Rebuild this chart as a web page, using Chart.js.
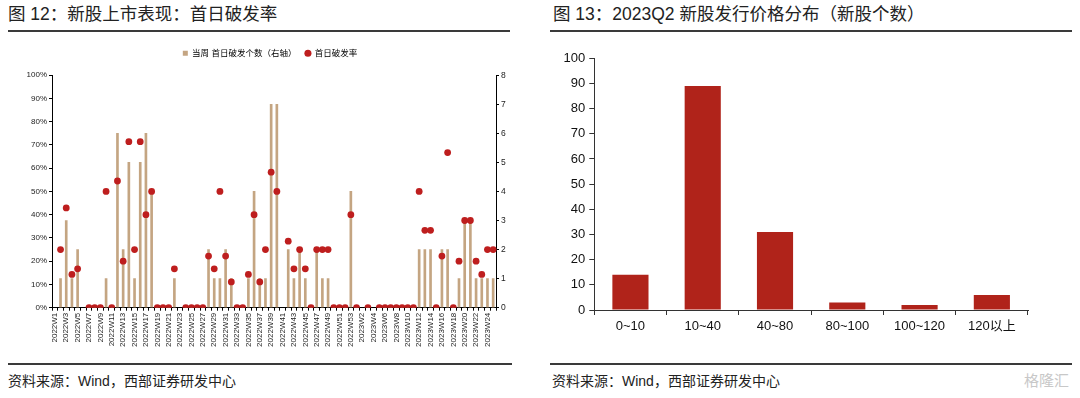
<!DOCTYPE html>
<html>
<head>
<meta charset="utf-8">
<script src="https://cdn.jsdelivr.net/npm/chart.js@4.4.0/dist/chart.umd.min.js"></script>
<style>
body{margin:0;background:#fff;width:1080px;height:398px;position:relative;overflow:hidden;font-family:"Liberation Sans","Noto Sans CJK SC",sans-serif;}
.title{position:absolute;top:4px;line-height:20px;font-size:17.5px;color:#222;font-family:"Liberation Sans","Noto Sans CJK SC",sans-serif;}
.rule{position:absolute;height:2px;background:#3a3a3a;}
.src{position:absolute;top:372px;line-height:18px;font-size:14px;color:#222;}
.box{position:absolute;}
.wm{position:absolute;left:1024px;top:372px;font-size:15px;color:#c8c8c8;line-height:18px;}
</style>
</head>
<body>
<div class="title" style="left:8px">图 12：新股上市表现：首日破发率</div>
<div class="rule" style="left:8px;width:502px;top:30px"></div>
<div class="title" style="left:553px">图 13：2023Q2 新股发行价格分布（新股个数）</div>
<div class="rule" style="left:550px;width:522px;top:30px"></div>

<div class="box" style="left:0;top:40px;width:540px;height:325px"><canvas id="ipoChart"></canvas></div>
<div class="box" style="left:540px;top:40px;width:540px;height:320px"><canvas id="priceChart"></canvas></div>

<div class="rule" style="left:8px;width:504px;top:363px;height:1.5px"></div>
<div class="rule" style="left:550px;width:522px;top:363px;height:1.5px"></div>
<div class="src" style="left:8px">资料来源：Wind，西部证券研发中心</div>
<div class="src" style="left:552px">资料来源：Wind，西部证券研发中心</div>
<div class="wm">格隆汇</div>

<script>
// 图12 周度数据
const weeks = [
  "2022W1","2022W2","2022W3","2022W4","2022W5","2022W6","2022W7","2022W8","2022W9","2022W10",
  "2022W11","2022W12","2022W13","2022W14","2022W15","2022W16","2022W17","2022W18","2022W19","2022W20",
  "2022W21","2022W22","2022W23","2022W24","2022W25","2022W26","2022W27","2022W28","2022W29","2022W30",
  "2022W31","2022W32","2022W33","2022W34","2022W35","2022W36","2022W37","2022W38","2022W39","2022W40",
  "2022W41","2022W42","2022W43","2022W44","2022W45","2022W46","2022W47","2022W48","2022W49","2022W50",
  "2022W51","2022W52","2022W53",
  "2023W1","2023W2","2023W3","2023W4","2023W5","2023W6","2023W7","2023W8","2023W9","2023W10",
  "2023W11","2023W12","2023W13","2023W14","2023W15","2023W16","2023W17","2023W18","2023W19","2023W20",
  "2023W21","2023W22","2023W23","2023W24","2023W25"
];

// 当周首日破发个数（右轴）
const brokenCount = [
  null,1,3,1,2,null,0,0,0,1,
  0,6,2,5,1,5,6,4,0,0,
  0,1,null,0,0,0,0,2,1,1,
  2,1,0,0,1,4,1,1,7,7,
  null,2,1,2,1,0,2,1,1,0,
  0,0,4,
  0,null,0,null,0,0,0,0,0,0,
  0,2,2,2,0,2,2,0,1,3,
  3,1,1,1,1
];

// 首日破发率（%）
const breakRate = [
  null,25,42.9,14.3,16.7,null,0,0,0,50,
  0,54.5,20,71.4,25,71.4,40,50,0,0,
  0,16.7,null,0,0,0,0,22.2,16.7,50,
  22.2,11.1,0,0,14.3,40,11.1,25,58.3,50,
  null,28.6,16.7,25,16.7,0,25,25,25,0,
  0,0,40,
  0,null,0,null,0,0,0,0,0,0,
  0,50,33.3,33.3,0,22.2,66.7,0,20,37.5,
  37.5,20,14.3,25,25
];

// 图13 价格区间
const priceBands = ["0~10","10~40","40~80","80~100","100~120","120以上"];
const bandCounts = [14, 89, 31, 3, 2, 6];

const axisFont = '"Liberation Sans","Noto Sans CJK SC",sans-serif';

// 给图例下方留出空间
const legendGap = {
  id: 'legendGap',
  beforeInit(chart) {
    const fit = chart.legend.fit;
    chart.legend.fit = function () {
      fit.bind(chart.legend)();
      this.height += 7.7;
    };
  }
};

new Chart(document.getElementById('ipoChart'), {
  type: 'bar',
  data: {
    labels: weeks,
    datasets: [{
      label: '当周 首日破发个数（右轴）',
      data: brokenCount,
      yAxisID: 'yRight',
      backgroundColor: '#C4A582',
      barThickness: 2,
      order: 2
    }, {
      label: '首日破发率',
      type: 'line',
      data: breakRate,
      yAxisID: 'yLeft',
      showLine: false,
      pointRadius: 3.4,
      pointBackgroundColor: '#BE1E1E',
      pointBorderWidth: 0,
      backgroundColor: '#BE1E1E',
      borderColor: '#BE1E1E',
      order: 1
    }]
  },
  options: {
    responsive: true,
    maintainAspectRatio: false,
    animation: false,
    layout: { padding: { top: 0, left: 0, right: 0, bottom: 0 } },
    plugins: {
      legend: {
        display: true,
        position: 'top',
        labels: {
          font: { size: 8.5, family: axisFont },
          color: '#333',
          usePointStyle: true,
          boxWidth: 5,
          boxHeight: 5,
          padding: 9,
          generateLabels(chart) {
            return chart.data.datasets.map((ds, i) => ({
              text: ds.label,
              fillStyle: ds.backgroundColor,
              strokeStyle: ds.backgroundColor,
              lineWidth: 0,
              pointStyle: i === 0 ? 'rect' : 'circle',
              datasetIndex: i,
              hidden: false
            }));
          }
        }
      },
      tooltip: { enabled: false }
    },
    scales: {
      x: {
        afterFit(scale) { scale.height = 57.3; },
        grid: { display: true, drawOnChartArea: false, drawTicks: true, tickLength: 3, color: '#000', offset: true },
        border: { display: true, color: '#000', width: 1 },
        ticks: {
          autoSkip: false,
          maxRotation: 90,
          minRotation: 90,
          padding: 2,
          color: '#222',
          font: { size: 8, family: axisFont },
          callback(v, i) { return i % 2 === 0 ? weeks[i] : ''; }
        }
      },
      yLeft: {
        position: 'left',
        min: 0, max: 100,
        afterFit(scale) { scale.width = 52; },
        grid: { display: true, drawOnChartArea: false, drawTicks: true, tickLength: 3, color: '#000' },
        border: { display: true, color: '#000', width: 1 },
        ticks: {
          stepSize: 10,
          padding: 2,
          color: '#222',
          font: { size: 8, family: axisFont },
          callback(v) { return v + '%'; }
        }
      },
      yRight: {
        position: 'right',
        min: 0, max: 8,
        afterFit(scale) { scale.width = 44; },
        grid: { display: true, drawOnChartArea: false, drawTicks: true, tickLength: 3, color: '#000' },
        border: { display: true, color: '#000', width: 1 },
        ticks: {
          stepSize: 1,
          padding: 2,
          color: '#222',
          font: { size: 8.5, family: axisFont }
        }
      }
    }
  },
  plugins: [legendGap]
});

new Chart(document.getElementById('priceChart'), {
  type: 'bar',
  data: {
    labels: priceBands,
    datasets: [{
      label: '新股个数',
      data: bandCounts,
      backgroundColor: '#B0231A',
      categoryPercentage: 1,
      barPercentage: 0.5
    }]
  },
  options: {
    responsive: true,
    maintainAspectRatio: false,
    animation: false,
    layout: { padding: { top: 18.3, right: 52, left: 0, bottom: 0 } },
    plugins: { legend: { display: false }, tooltip: { enabled: false } },
    scales: {
      x: {
        afterFit(scale) { scale.height = 50; },
        grid: { display: true, drawOnChartArea: false, drawTicks: true, tickLength: 5, color: '#333', offset: true },
        border: { display: true, color: '#333', width: 1 },
        ticks: { padding: 4, color: '#111', font: { size: 13, family: axisFont } }
      },
      y: {
        min: 0, max: 100,
        afterFit(scale) { scale.width = 54.3; },
        grid: { display: true, drawOnChartArea: false, drawTicks: true, tickLength: 5, color: '#333' },
        border: { display: true, color: '#333', width: 1 },
        ticks: { stepSize: 10, padding: 4, color: '#111', font: { size: 13, family: axisFont } }
      }
    }
  }
});
</script>
</body>
</html>
